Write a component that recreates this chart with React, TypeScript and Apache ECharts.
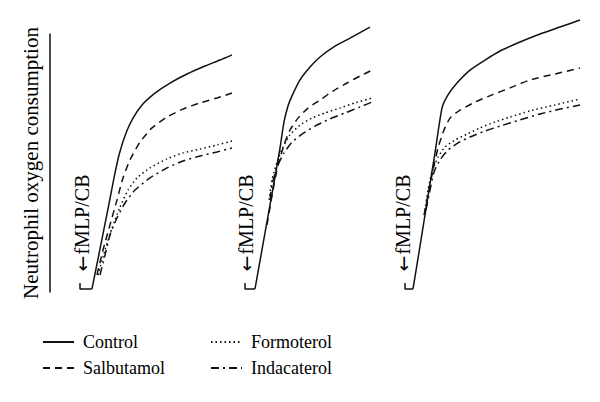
import React, { useEffect, useRef } from "react";
import * as echarts from "echarts";

const legendLeftColumn = ["Control", "Salbutamol"];
const legendRightColumn = ["Formoterol", "Indacaterol"];
const yAxisTitle = "Neutrophil oxygen consumption";
const stimulusArrow = "←";
const stimulusText = "fMLP/CB";

// Panel 1
const baseline1 = [[-0.2, 3.5], [-0.2, 1.2], [1.0, 1.2]];
const control1 = [[1.0, 1.2], [1.8, 16.7], [2.6, 32.2], [3.2, 44.2], [3.7, 53.1], [4.4, 61.6], [5.1, 67.4], [6.0, 72.5], [7.3, 77.1], [8.8, 81.0], [10.5, 84.5], [12.3, 87.6], [13.8, 89.9], [15.0, 91.9]];
const salbutamol1 = [[1.5, 6.6], [2.1, 16.3], [2.8, 26.0], [3.5, 35.7], [4.1, 44.2], [4.8, 51.2], [5.8, 58.1], [7.0, 63.6], [8.5, 67.8], [10.1, 70.9], [11.8, 73.3], [13.5, 75.2], [15.0, 77.1]];
const formoterol1 = [[1.6, 6.6], [2.3, 16.3], [3.0, 24.8], [3.8, 32.9], [4.6, 39.5], [5.5, 44.2], [6.8, 48.1], [8.5, 51.6], [10.1, 53.9], [11.8, 55.4], [13.5, 57.0], [15.0, 58.5]];
const indacaterol1 = [[1.8, 6.6], [2.3, 14.3], [2.8, 22.1], [3.5, 28.7], [4.3, 34.5], [5.3, 39.5], [6.8, 44.2], [8.5, 48.1], [10.1, 50.8], [11.8, 52.7], [13.5, 54.3], [15.0, 55.8]];

// Panel 2
const baseline2 = [[-0.2, 3.5], [-0.2, 1.2], [0.8, 1.2]];
const control2 = [[0.8, 1.2], [1.8, 22.9], [2.8, 44.6], [3.3, 55.8], [3.7, 65.9], [4.1, 72.1], [4.5, 76.0], [5.3, 82.2], [6.3, 87.2], [7.3, 91.1], [8.8, 95.3], [10.3, 98.4], [12.3, 102.7]];
const salbutamol2 = [[2.0, 26.0], [2.6, 39.5], [3.1, 49.2], [3.7, 57.0], [4.3, 62.8], [5.1, 67.4], [6.1, 71.3], [7.3, 74.4], [8.6, 77.9], [10.0, 81.0], [11.3, 83.7], [12.5, 86.0]];
const formoterol2 = [[2.2, 35.7], [2.5, 43.4], [3.0, 50.4], [3.6, 56.2], [4.3, 60.9], [5.3, 64.7], [6.5, 67.4], [7.8, 69.4], [9.3, 71.3], [10.8, 73.3], [12.5, 75.2]];
const indacaterol2 = [[2.3, 35.7], [2.5, 41.5], [3.0, 48.4], [3.7, 53.9], [4.5, 58.1], [5.5, 61.2], [6.8, 64.3], [8.3, 67.1], [9.8, 69.4], [11.3, 71.7], [12.5, 73.6]];

// Panel 3
const baseline3 = [[0.3, 3.5], [0.3, 1.2], [1.1, 1.2]];
const control3 = [[1.1, 1.2], [1.8, 17.8], [2.6, 37.2], [3.3, 53.9], [4.0, 71.3], [4.6, 76.4], [5.5, 81.0], [6.8, 86.0], [8.3, 89.9], [9.8, 93.4], [11.8, 96.9], [13.8, 100.0], [15.8, 102.7], [17.8, 105.4]];
const salbutamol3 = [[2.2, 29.8], [2.6, 37.6], [3.1, 47.3], [3.6, 55.8], [4.2, 62.8], [4.8, 67.4], [5.8, 70.5], [7.3, 73.6], [9.0, 76.4], [10.8, 79.1], [12.8, 82.2], [15.3, 84.5], [17.8, 86.8]];
const formoterol3 = [[2.3, 31.8], [2.6, 39.5], [3.0, 46.5], [3.6, 52.3], [4.3, 56.2], [5.3, 58.9], [6.5, 61.2], [7.8, 63.6], [9.3, 65.9], [10.8, 67.8], [12.8, 70.2], [15.3, 72.5], [17.8, 74.8]];
const indacaterol3 = [[2.4, 31.8], [2.8, 39.5], [3.2, 46.5], [3.8, 51.2], [4.6, 55.0], [5.6, 57.8], [6.8, 60.1], [8.3, 62.4], [9.8, 64.3], [11.8, 66.7], [13.8, 69.0], [15.8, 70.9], [17.8, 72.5]];

const panels = [
  { baseline: baseline1, Control: control1, Salbutamol: salbutamol1, Formoterol: formoterol1, Indacaterol: indacaterol1 },
  { baseline: baseline2, Control: control2, Salbutamol: salbutamol2, Formoterol: formoterol2, Indacaterol: indacaterol2 },
  { baseline: baseline3, Control: control3, Salbutamol: salbutamol3, Formoterol: formoterol3, Indacaterol: indacaterol3 },
];

const FONT = "'Liberation Serif', 'Times New Roman', serif";
const INK = "#111";

const dashStyles: Record<string, any> = {
  Control: "solid",
  Salbutamol: [7, 5],
  Formoterol: [1.5, 3],
  Indacaterol: [8, 4, 2, 4],
};

export default function App() {
  const ref = useRef<HTMLDivElement>(null);
  useEffect(() => {
    if (!ref.current) return;
    const chart = echarts.init(ref.current, undefined, { renderer: "svg" });

    const series: any[] = [];
    panels.forEach((p, i) => {
      series.push({
        name: "Baseline",
        type: "line",
        xAxisIndex: i,
        yAxisIndex: i,
        data: p.baseline,
        symbol: "none",
        clip: false,
        silent: true,
        itemStyle: { color: INK },
        lineStyle: { color: INK, width: 1.5, type: "solid" },
      });
      ["Control", "Salbutamol", "Formoterol", "Indacaterol"].forEach((n) => {
        series.push({
          name: n,
          type: "line",
          xAxisIndex: i,
          yAxisIndex: i,
          data: (p as any)[n],
          symbol: "none",
          showSymbol: false,
          smooth: 0.2,
          clip: false,
          silent: true,
          itemStyle: { color: INK },
          lineStyle: { color: INK, width: 1.5, type: dashStyles[n] },
        });
      });
    });

    const legendCommon = {
      orient: "vertical",
      top: 333,
      itemWidth: 31,
      itemHeight: 14,
      itemGap: 8,
      padding: 0,
      selectedMode: false,
      itemStyle: { color: "rgba(0,0,0,0)", borderColor: "rgba(0,0,0,0)", borderWidth: 0 },
      textStyle: { fontSize: 18, fontFamily: FONT, color: "#000", padding: [0, 0, 0, 4] },
    };

    const labelText = (x: number) => ({
      type: "text",
      x,
      y: 223,
      rotation: Math.PI / 2,
      silent: true,
      style: {
        text: "{a|" + stimulusArrow + "}" + stimulusText,
        fontSize: 20,
        fontFamily: FONT,
        fill: "#000",
        align: "center",
        verticalAlign: "middle",
        rich: {
          a: { fontSize: 19, fontFamily: "'DejaVu Sans'", fill: "#000", padding: [0, 1, 0, 0] },
        },
      },
    });

    chart.setOption({
      animation: false,
      backgroundColor: "#fff",
      grid: [
        { left: 80, top: 34, width: 152, height: 258 },
        { left: 245, top: 34, width: 127, height: 258 },
        { left: 402, top: 34, width: 178, height: 258 },
      ],
      xAxis: [
        { gridIndex: 0, type: "value", min: -0.2, max: 15, show: false },
        { gridIndex: 1, type: "value", min: -0.2, max: 12.5, show: false },
        { gridIndex: 2, type: "value", min: 0, max: 17.8, show: false },
      ],
      yAxis: [
        {
          gridIndex: 0,
          type: "value",
          min: 0,
          max: 100,
          offset: 30,
          axisLine: { show: true, onZero: false, lineStyle: { color: INK, width: 1.5 } },
          axisTick: { show: false },
          axisLabel: { show: false },
          splitLine: { show: false },
          name: yAxisTitle,
          nameLocation: "middle",
          nameRotate: 90,
          nameGap: 9,
          nameTextStyle: { fontSize: 21, fontFamily: FONT, color: "#000" },
        },
        { gridIndex: 1, type: "value", min: 0, max: 100, show: false },
        { gridIndex: 2, type: "value", min: 0, max: 100, show: false },
      ],
      legend: [
        { ...legendCommon, left: 42, data: legendLeftColumn },
        { ...legendCommon, left: 210, data: legendRightColumn },
      ],
      graphic: [labelText(81.5), labelText(245.5), labelText(402.5)],
      series,
    });

    return () => chart.dispose();
  }, []);

  return (
    <div
      ref={ref}
      style={{ position: "fixed", left: 0, top: 0, width: 600, height: 402, background: "#fff" }}
    />
  );
}
